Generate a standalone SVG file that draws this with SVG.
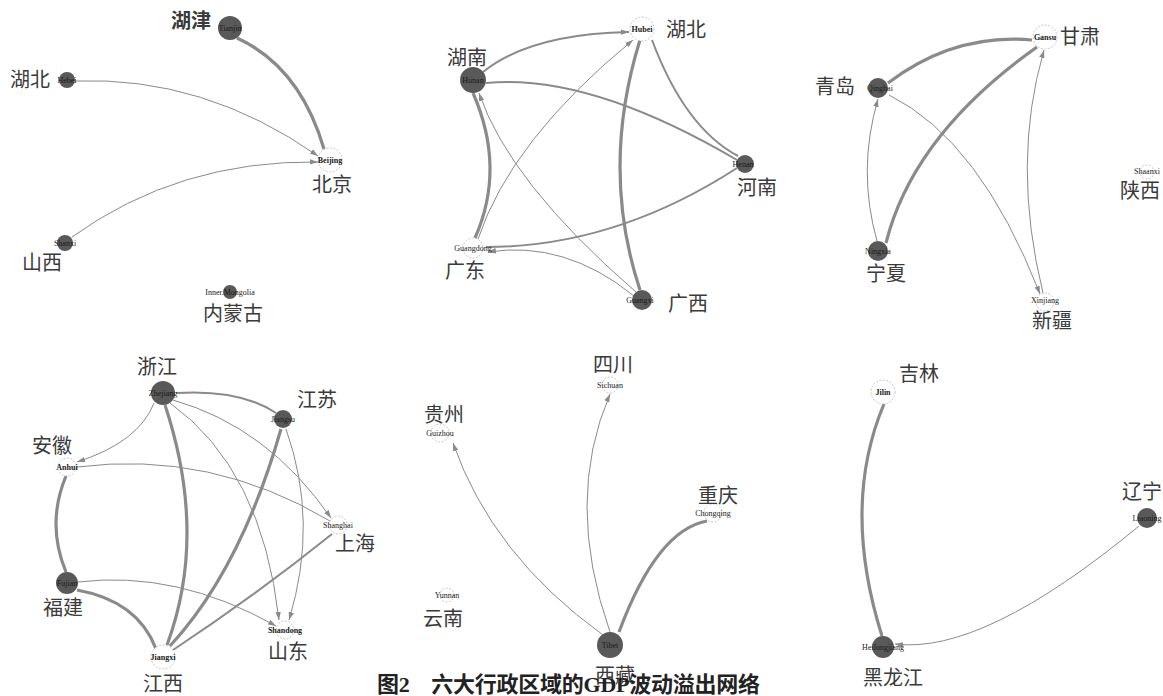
<svg xmlns="http://www.w3.org/2000/svg" width="1163" height="696" viewBox="0 0 1163 696">
<style>
.dk{fill:#595959}
.wt{fill:#fff;stroke:#b8b8b8;stroke-width:0.8;stroke-dasharray:2 1.5}
.en{font-family:"Liberation Serif",serif;font-size:8px;fill:#1a1a1a;text-anchor:middle}
.cn{font-family:"Noto Sans CJK SC",sans-serif;font-size:20px;fill:#3a3a3a}
.e{fill:none;stroke:#8a8a8a}
.t1{stroke-width:1}
.t2{stroke-width:2}
.t3{stroke-width:3.2}
.ar{marker-end:url(#arr)}
.cap{font-family:"Liberation Serif","Noto Sans CJK SC",serif;font-size:22px;font-weight:bold;fill:#222}
</style>
<defs>
<marker id="arr" markerUnits="userSpaceOnUse" markerWidth="9" markerHeight="7" refX="8" refY="3.5" orient="auto">
<path d="M0,0.8 L8,3.5 L0,6.2 Z" fill="#8a8a8a"/>
</marker>
</defs>
<rect width="1163" height="696" fill="#fff"/>

<g id="connectors">
<!-- panel 1 -->
<path class="e t3" d="M237,38 Q300,67 324,149"/>
<path class="e t1 ar" d="M75,81 Q204,76 318,156"/>
<path class="e t1 ar" d="M72,237 Q179,160 318,162"/>
<!-- panel 2 -->
<path class="e t2 ar" d="M483,72 Q530,34 629,32"/>
<path class="e t2" d="M486,83 Q589,73 737,160"/>
<path class="e t2" d="M738,156 Q685,128 652,40"/>
<path class="e t1 ar" d="M478,239 Q511,140 633,40"/>
<path class="e t3" d="M473,93 Q506,168 475,238"/>
<path class="e t1 ar" d="M636,292 Q509,182 479,93"/>
<path class="e t3" d="M640,40 Q600,169 640,290"/>
<path class="e t2" d="M737,168 Q615,247 486,247"/>
<path class="e t1 ar" d="M634,296 Q565,240 488,252"/>
<!-- panel 3 -->
<path class="e t3" d="M888,83 Q954,33 1032,40"/>
<path class="e t3" d="M886,243 Q913,135 1037,47"/>
<path class="e t1 ar" d="M877,241 Q857,170 878,99"/>
<path class="e t1 ar" d="M889,95 Q980,140 1040,294"/>
<path class="e t1 ar" d="M1043,293 Q1011,163 1044,50"/>
<!-- panel 4 -->
<path class="e t2" d="M176,393 Q240,389 276,413"/>
<path class="e t1 ar" d="M154,403 Q139,442 77,462"/>
<path class="e t1" d="M77,467 Q211,450 330,521"/>
<path class="e t1 ar" d="M173,400 Q268,427 331,518"/>
<path class="e t1 ar" d="M170,403 Q262,469 279,620"/>
<path class="e t1 ar" d="M286,429 Q319,522 289,620"/>
<path class="e t3" d="M165,405 Q208,535 167,645"/>
<path class="e t3" d="M281,429 Q241,569 170,646"/>
<path class="e t2" d="M332,534 Q255,596 173,650"/>
<path class="e t3" d="M66,476 Q46,524 66,572"/>
<path class="e t1 ar" d="M78,582 Q177,570 276,626"/>
<path class="e t3" d="M77,590 Q138,601 156,649"/>
<!-- panel 5 -->
<path class="e t1 ar" d="M603,635 Q492,555 453,443"/>
<path class="e t1 ar" d="M610,632 Q564,501 610,394"/>
<path class="e t3" d="M619,632 Q657,530 707,521"/>
<!-- panel 6 -->
<path class="e t3" d="M884,404 Q841,506 882,636"/>
<path class="e t1 ar" d="M1139,526 Q983,655 895,644"/>
</g>

<!-- panel 1 nodes -->
<g id="n-tianjin"><circle class="dk" cx="230" cy="28" r="12"/><text class="en" x="230" y="31">Tianjin</text><text class="cn" x="171" y="28" style="font-weight:bold">湖津</text></g>
<g id="n-hebei"><circle class="dk" cx="67" cy="80" r="8"/><text class="en" x="67" y="83">Hebei</text><text class="cn" x="10" y="87">湖北</text></g>
<g id="n-beijing"><circle class="wt" cx="330" cy="160" r="12"/><text class="en" x="330" y="163" font-weight="bold">Beijing</text><text class="cn" x="312" y="192">北京</text></g>
<g id="n-shanxi"><circle class="dk" cx="65" cy="243" r="8"/><text class="en" x="65" y="246">Shanxi</text><text class="cn" x="22" y="270">山西</text></g>
<g id="n-innermongolia"><circle class="dk" cx="230" cy="292" r="7"/><text class="en" x="230" y="295">Inner.Mongolia</text><text class="cn" x="203" y="321">内蒙古</text></g>

<!-- panel 2 nodes -->
<g id="n-hubei"><circle class="wt" cx="642" cy="29" r="12"/><text class="en" x="642" y="32" font-weight="bold">Hubei</text><text class="cn" x="666" y="37">湖北</text></g>
<g id="n-hunan"><circle class="dk" cx="473" cy="80" r="13"/><text class="en" x="473" y="83">Hunan</text><text class="cn" x="447" y="65">湖南</text></g>
<g id="n-henan"><circle class="dk" cx="745" cy="164" r="9"/><text class="en" x="743" y="167">Henan</text><text class="cn" x="737" y="195">河南</text></g>
<g id="n-guangdong"><circle class="wt" cx="473" cy="248" r="10"/><text class="en" x="473" y="251">Guangdong</text><text class="cn" x="445" y="278">广东</text></g>
<g id="n-guangxi"><circle class="dk" cx="642" cy="300" r="10"/><text class="en" x="640" y="303">Guangxi</text><text class="cn" x="668" y="311">广西</text></g>

<!-- panel 3 nodes -->
<g id="n-gansu"><circle class="wt" cx="1045" cy="37" r="12"/><text class="en" x="1045" y="40" font-weight="bold">Gansu</text><text class="cn" x="1060" y="44">甘肃</text></g>
<g id="n-qinghai"><circle class="dk" cx="878" cy="88" r="10"/><text class="en" x="880" y="91">Qinghai</text><text class="cn" x="815" y="94">青岛</text></g>
<g id="n-ningxia"><circle class="dk" cx="878" cy="251" r="10"/><text class="en" x="878" y="254">Ningxia</text><text class="cn" x="866" y="281">宁夏</text></g>
<g id="n-xinjiang"><circle class="wt" cx="1045" cy="302" r="9"/><text class="en" x="1045" y="303">Xinjiang</text><text class="cn" x="1032" y="328">新疆</text></g>
<g id="n-shaanxi"><circle class="wt" cx="1147" cy="172" r="7"/><text class="en" x="1147" y="174">Shaanxi</text><text class="cn" x="1120" y="198">陕西</text></g>

<!-- panel 4 nodes -->
<g id="n-zhejiang"><circle class="dk" cx="163" cy="393" r="12"/><text class="en" x="163" y="396">Zhejiang</text><text class="cn" x="137" y="374">浙江</text></g>
<g id="n-jiangsu"><circle class="dk" cx="283" cy="419" r="9"/><text class="en" x="283" y="422">Jiangsu</text><text class="cn" x="297" y="407">江苏</text></g>
<g id="n-anhui"><circle class="wt" cx="67" cy="467" r="9"/><text class="en" x="67" y="470" font-weight="bold">Anhui</text><text class="cn" x="32" y="453">安徽</text></g>
<g id="n-shanghai"><circle class="wt" cx="338" cy="525" r="9"/><text class="en" x="338" y="528">Shanghai</text><text class="cn" x="335" y="551">上海</text></g>
<g id="n-fujian"><circle class="dk" cx="67" cy="583" r="11"/><text class="en" x="67" y="586">Fujian</text><text class="cn" x="43" y="615">福建</text></g>
<g id="n-shandong"><circle class="wt" cx="285" cy="630" r="9"/><text class="en" x="285" y="633" font-weight="bold">Shandong</text><text class="cn" x="268" y="659">山东</text></g>
<g id="n-jiangxi"><circle class="wt" cx="163" cy="657" r="12"/><text class="en" x="163" y="660" font-weight="bold">Jiangxi</text><text class="cn" x="143" y="691">江西</text></g>

<!-- panel 5 nodes -->
<g id="n-sichuan"><circle class="wt" cx="610" cy="385" r="8"/><text class="en" x="610" y="388">Sichuan</text><text class="cn" x="593" y="372">四川</text></g>
<g id="n-guizhou"><circle class="wt" cx="440" cy="433" r="9"/><text class="en" x="440" y="436">Guizhou</text><text class="cn" x="424" y="422">贵州</text></g>
<g id="n-chongqing"><circle class="wt" cx="713" cy="513" r="9"/><text class="en" x="713" y="516">Chongqing</text><text class="cn" x="698" y="503">重庆</text></g>
<g id="n-yunnan"><circle class="wt" cx="447" cy="595" r="7"/><text class="en" x="447" y="598">Yunnan</text><text class="cn" x="423" y="626">云南</text></g>
<g id="n-tibet"><circle class="dk" cx="610" cy="645" r="13"/><text class="en" x="610" y="648">Tibet</text><text class="cn" x="595" y="683">西藏</text></g>

<!-- panel 6 nodes -->
<g id="n-jilin"><circle class="wt" cx="883" cy="392" r="12"/><text class="en" x="883" y="395" font-weight="bold">Jilin</text><text class="cn" x="899" y="381">吉林</text></g>
<g id="n-liaoning"><circle class="dk" cx="1147" cy="518" r="10"/><text class="en" x="1147" y="521">Liaoning</text><text class="cn" x="1122" y="499">辽宁</text></g>
<g id="n-heilongjiang"><circle class="dk" cx="883" cy="647" r="11"/><text class="en" x="883" y="650">Heilongjiang</text><text class="cn" x="863" y="685">黑龙江</text></g>

<text class="cap" x="377" y="692" textLength="383" lengthAdjust="spacing">图2　六大行政区域的GDP波动溢出网络</text>
</svg>
